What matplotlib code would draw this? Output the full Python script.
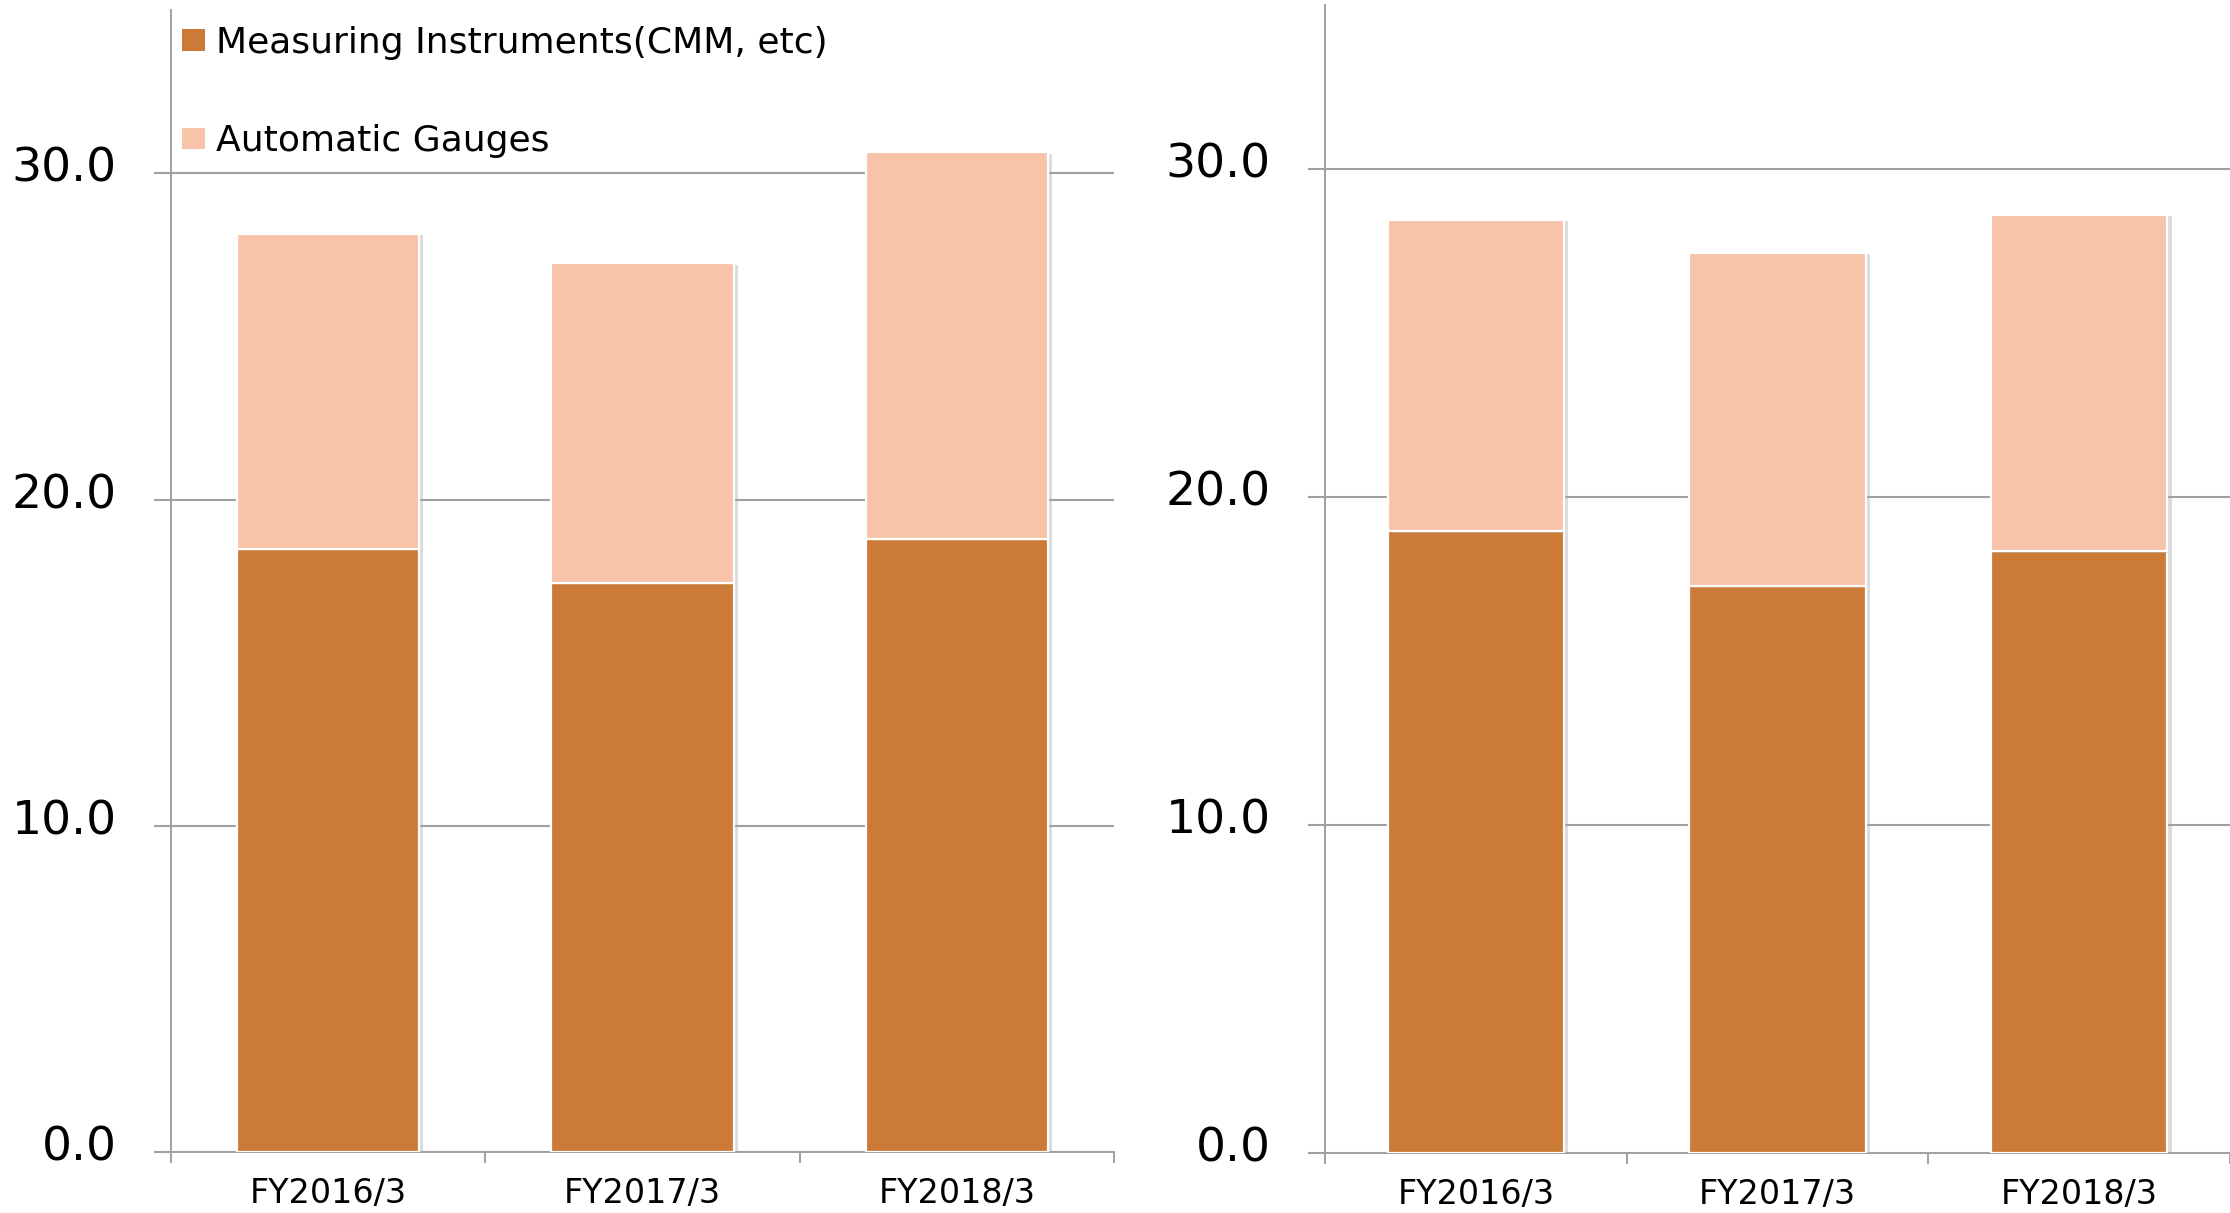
import matplotlib
matplotlib.use("Agg")
import matplotlib.pyplot as plt
import matplotlib.patheffects as pe
from matplotlib.patches import Patch
from matplotlib.transforms import ScaledTranslation

# sales by segment, two panels (billion yen)
years = ["FY2016/3", "FY2017/3", "FY2018/3"]
left_instruments = [18.5, 17.45, 18.8]
left_total = [28.15, 27.25, 30.65]
right_instruments = [18.95, 17.3, 18.35]
right_total = [28.45, 27.45, 28.6]
series_names = ["Measuring Instruments(CMM, etc)", "Automatic Gauges"]
yticks = [0, 10, 20, 30]

dark = "#CB7A37"
light = "#F7C3A9"
grid_grey = "#A0A0A0"

W, H = 2230, 1213
fig = plt.figure(figsize=(W / 100, H / 100), dpi=100)


def draw_panel(ax, lower, total, width):
    upper = [t - l for t, l in zip(total, lower)]
    x = list(range(len(years)))
    shadow = [pe.SimplePatchShadow(offset=(3, -1), shadow_rgbFace="#a8a8a8", alpha=0.4), pe.Normal()]
    b1 = ax.bar(x, lower, width=width, color=dark, edgecolor="white", linewidth=1.6, zorder=3)
    b2 = ax.bar(x, upper, bottom=lower, width=width, color=light, edgecolor="white", linewidth=1.6, zorder=3)
    for p in list(b1) + list(b2):
        p.set_path_effects(shadow)

    ax.set_xlim(-0.5, 2.5)
    ax.set_ylim(0, 35)
    ax.set_yticks(yticks)
    ax.set_yticklabels([f"{v:.1f}" for v in yticks])
    ax.set_xticks(x)
    ax.set_xticklabels(years)
    ax.set_xticks([-0.5, 0.5, 1.5, 2.5], minor=True)

    ax.grid(axis="y", color=grid_grey, linewidth=1.5, zorder=0)
    ax.set_axisbelow(True)
    for side in ["top", "right"]:
        ax.spines[side].set_visible(False)
    for side in ["left", "bottom"]:
        ax.spines[side].set_color(grid_grey)
        ax.spines[side].set_linewidth(1.4)

    ax.tick_params(axis="x", which="major", length=0, pad=18, labelsize=24)
    ax.tick_params(axis="x", which="minor", length=8, width=1.4, color=grid_grey)
    ax.tick_params(axis="y", length=12, width=1.5, color=grid_grey, pad=27, labelsize=34)
    shift = ScaledTranslation(0, 9 / 100, fig.dpi_scale_trans)
    for lab in ax.get_yticklabels():
        lab.set_transform(lab.get_transform() + shift)


ax1 = fig.add_axes([171 / W, 1 - 1152 / H, (1114 - 171) / W, (1152 - 10.4) / H])
ax2 = fig.add_axes([1325 / W, 1 - 1153 / H, (W - 1325) / W, (1153 - 5) / H])

draw_panel(ax1, left_instruments, left_total, 0.58)
draw_panel(ax2, right_instruments, right_total, 0.585)

handles = [Patch(facecolor=dark), Patch(facecolor=light)]
fig.legend(handles, series_names, loc="upper left",
           bbox_to_anchor=(182 / W, 1 - 26 / H), frameon=False,
           fontsize=26, handlelength=0.65, handleheight=0.55,
           handletextpad=0.3, labelspacing=1.78, borderpad=0, borderaxespad=0)

# unit label sitting at the top edge
fig.text(140 / W, 1.004, "(¥bn)", fontsize=30, va="baseline", ha="left")

fig.savefig("out.png", dpi=100)
